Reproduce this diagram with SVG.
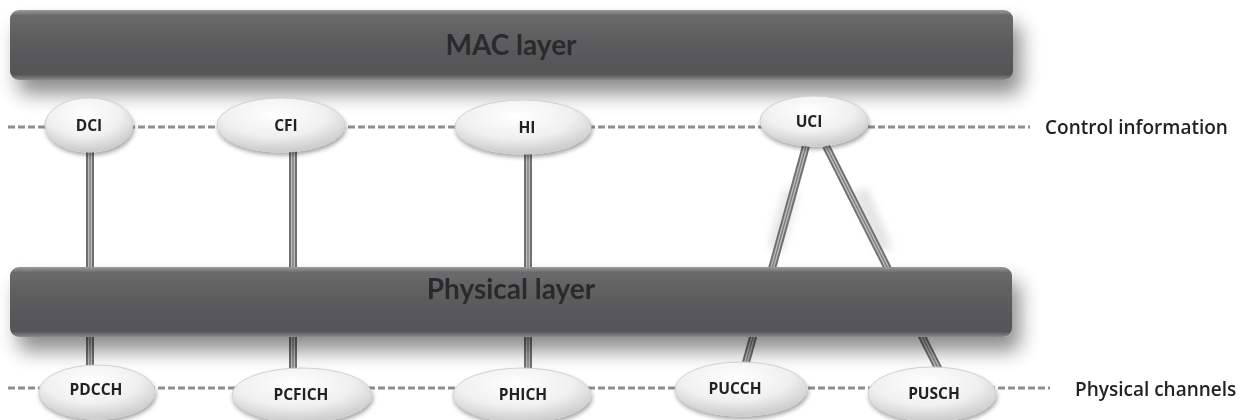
<svg xmlns="http://www.w3.org/2000/svg" width="1255" height="420" viewBox="0 0 1255 420">
<defs>
<linearGradient id="barG" x1="0" y1="0" x2="0" y2="1">
<stop offset="0" stop-color="#9a9a9a"/>
<stop offset="0.08" stop-color="#6a6a6b"/>
<stop offset="0.5" stop-color="#5b5b5d"/>
<stop offset="0.92" stop-color="#555557"/>
<stop offset="1" stop-color="#8a8a8a"/>
</linearGradient>
<radialGradient id="ellG" cx="0.45" cy="0.3" r="0.75">
<stop offset="0" stop-color="#ffffff"/>
<stop offset="0.55" stop-color="#f0f0f0"/>
<stop offset="1" stop-color="#c4c4c4"/>
</radialGradient>
<filter id="shadow" x="-10%" y="-50%" width="120%" height="220%">
<feGaussianBlur in="SourceAlpha" stdDeviation="10"/>
<feOffset dx="8" dy="14" result="b"/>
<feComponentTransfer><feFuncA type="linear" slope="0.45"/></feComponentTransfer>
<feMerge><feMergeNode/><feMergeNode in="SourceGraphic"/></feMerge>
</filter>
<filter id="eshadow" x="-20%" y="-30%" width="140%" height="170%">
<feGaussianBlur in="SourceAlpha" stdDeviation="2"/>
<feOffset dx="1" dy="3"/>
<feComponentTransfer><feFuncA type="linear" slope="0.35"/></feComponentTransfer>
<feMerge><feMergeNode/><feMergeNode in="SourceGraphic"/></feMerge>
</filter>
<filter id="pshadow" x="-300%" y="-10%" width="700%" height="120%">
<feGaussianBlur stdDeviation="5"/>
</filter>
</defs>
<style>
.bar{fill:url(#barG);filter:url(#shadow)}
.barTxt{font-family:Lato,"Open Sans",sans-serif;font-weight:bold;font-size:28px;fill:#2a2a2c;text-anchor:middle}
.ell{fill:url(#ellG);stroke:#d0d0d0;stroke-width:1;filter:url(#eshadow)}
.lbl{font-family:"Open Sans","Liberation Sans",sans-serif;font-weight:bold;font-size:15.5px;fill:#222;text-anchor:middle}
.side{font-family:"Open Sans","Liberation Sans",sans-serif;font-weight:600;font-size:19px;fill:#222}
.dash{stroke:#8e8e8e;stroke-width:3;stroke-dasharray:7 3;fill:none}
.p1{stroke:#707070;stroke-width:8;fill:none}
.p2{stroke:#bdbdbd;stroke-width:4;fill:none}
.p3{stroke:#7c7c7c;stroke-width:1.3;fill:none}
.psh{stroke:#d4d4d4;stroke-width:14;fill:none;filter:url(#pshadow)}
</style>
<rect width="1255" height="420" fill="#ffffff"/>

<g id="dashes">
<line class="dash" x1="8" y1="127" x2="1030" y2="127"/>
<line class="dash" x1="8" y1="388" x2="1050" y2="388"/>
</g>

<g id="connectors">
<g opacity="0.7">
<line class="psh" x1="68" y1="175" x2="68" y2="370"/>
<line class="psh" x1="272" y1="175" x2="272" y2="370"/>
<line class="psh" x1="505" y1="175" x2="505" y2="370"/>
<line class="psh" x1="792" y1="190" x2="775" y2="250"/>
<line class="psh" x1="860" y1="190" x2="885" y2="250"/>
</g>
<g>
<line class="p1" x1="90" y1="150" x2="90" y2="368"/>
<line class="p2" x1="90" y1="150" x2="90" y2="368"/>
<line class="p3" x1="90" y1="150" x2="90" y2="368"/>
<line class="p1" x1="293" y1="150" x2="293" y2="370"/>
<line class="p2" x1="293" y1="150" x2="293" y2="370"/>
<line class="p3" x1="293" y1="150" x2="293" y2="370"/>
<line class="p1" x1="528" y1="152" x2="528" y2="370"/>
<line class="p2" x1="528" y1="152" x2="528" y2="370"/>
<line class="p3" x1="528" y1="152" x2="528" y2="370"/>
<line class="p1" x1="806" y1="146" x2="745" y2="366"/>
<line class="p2" x1="806" y1="146" x2="745" y2="366"/>
<line class="p3" x1="806" y1="146" x2="745" y2="366"/>
<line class="p1" x1="826" y1="146" x2="939" y2="370"/>
<line class="p2" x1="826" y1="146" x2="939" y2="370"/>
<line class="p3" x1="826" y1="146" x2="939" y2="370"/>
</g>
</g>

<g id="mac-layer">
<rect class="bar" x="10" y="10" width="1003" height="70" rx="9"/>
<text class="barTxt" x="511" y="55">MAC layer</text>
</g>

<g id="physical-layer">
<rect class="bar" x="10" y="267" width="1002" height="70" rx="9"/>
<text class="barTxt" x="511" y="299">Physical layer</text>
</g>

<g id="DCI"><ellipse class="ell" cx="89" cy="125" rx="44" ry="27"/><text class="lbl" x="89" y="131">DCI</text></g>
<g id="CFI"><ellipse class="ell" cx="281" cy="125" rx="64" ry="27"/><text class="lbl" x="286" y="131">CFI</text></g>
<g id="HI"><ellipse class="ell" cx="523" cy="127" rx="68" ry="27"/><text class="lbl" x="527" y="133">HI</text></g>
<g id="UCI"><ellipse class="ell" cx="814" cy="121" rx="54" ry="25"/><text class="lbl" x="809" y="127">UCI</text></g>

<g id="PDCCH"><ellipse class="ell" cx="97" cy="392" rx="58" ry="27"/><text class="lbl" x="96" y="395">PDCCH</text></g>
<g id="PCFICH"><ellipse class="ell" cx="302" cy="395" rx="70" ry="27"/><text class="lbl" x="301" y="400">PCFICH</text></g>
<g id="PHICH"><ellipse class="ell" cx="522" cy="395" rx="69" ry="27"/><text class="lbl" x="523" y="400">PHICH</text></g>
<g id="PUCCH"><ellipse class="ell" cx="741" cy="389" rx="66" ry="27"/><text class="lbl" x="735" y="394">PUCCH</text></g>
<g id="PUSCH"><ellipse class="ell" cx="932" cy="394" rx="64" ry="27"/><text class="lbl" x="934" y="399">PUSCH</text></g>

<g id="side-labels">
<text class="side" x="1045" y="134">Control information</text>
<text class="side" x="1075" y="396">Physical channels</text>
</g>
</svg>
